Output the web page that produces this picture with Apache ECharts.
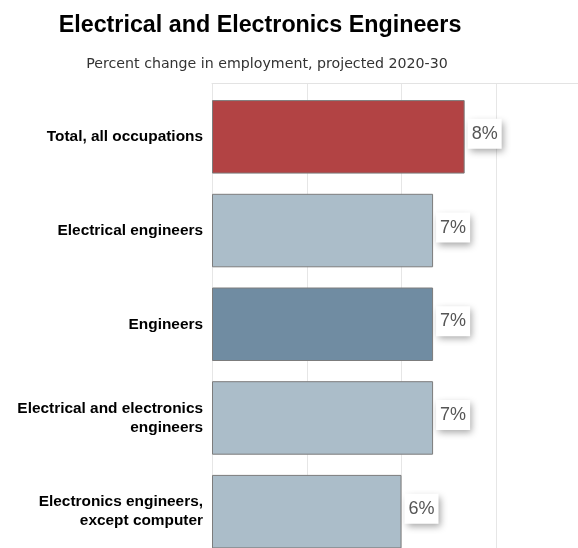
<!DOCTYPE html>
<html>
<head>
<meta charset="utf-8">
<script src="https://cdn.jsdelivr.net/npm/echarts@6/dist/echarts.min.js"></script>
<style>html,body{margin:0;padding:0;background:#fff}#c{width:578px;height:548px}</style>
</head>
<body>
<div id="c"></div>
<script>
var categories = [
  'Total, all occupations',
  'Electrical engineers',
  'Engineers',
  'Electrical and electronics\nengineers',
  'Electronics engineers,\nexcept computer'
];
var values = [8, 7, 7, 7, 6];
var barColors = ['#b24344', '#abbdc9', '#708ca2', '#abbdc9', '#abbdc9'];
var xMin = 0, xMax = 12, xStep = 3;

var chart = echarts.init(document.getElementById('c'), null, {renderer: 'canvas'});
chart.setOption({
  animation: false,
  title: [{
    text: 'Electrical and Electronics Engineers',
    left: 255, top: 9, textAlign: 'center',
    textStyle: {fontFamily: 'Liberation Sans, Arial, sans-serif', fontWeight: 'bold', fontSize: 23.3, color: '#000'}
  }, {
    text: 'Percent change in employment, projected 2020-30',
    left: 262, top: 52, textAlign: 'center',
    textStyle: {fontFamily: 'DejaVu Sans, sans-serif', fontWeight: 'normal', fontSize: 14.2, color: '#333'}
  }],
  grid: [
    {left: 212, top: 83, width: 379, height: 500, outerBoundsMode: 'none'},
    {left: 212, top: 90, width: 379, height: 468.5, outerBoundsMode: 'none'}
  ],
  xAxis: [{
    gridIndex: 0, type: 'value', min: xMin, max: xMax, interval: xStep, position: 'top',
    axisLine: {show: true, onZero: false, lineStyle: {color: '#e3e3e3', width: 1}},
    axisTick: {show: false}, axisLabel: {show: false},
    splitLine: {show: true, lineStyle: {color: '#e6e6e6', width: 1}}
  }, {
    gridIndex: 1, type: 'value', min: xMin, max: xMax, interval: xStep,
    axisLine: {show: false}, axisTick: {show: false}, axisLabel: {show: false}, splitLine: {show: false}
  }],
  yAxis: [{
    gridIndex: 0, type: 'value', min: 0, max: 1,
    axisLine: {show: false}, axisTick: {show: false}, axisLabel: {show: false}, splitLine: {show: false}
  }, {
    gridIndex: 1, type: 'category', data: categories, inverse: true,
    axisLine: {show: false}, axisTick: {show: false}, splitLine: {show: false},
    axisLabel: {
      margin: 9, align: 'right', fontFamily: 'Liberation Sans, Arial, sans-serif',
      fontWeight: 'bold', fontSize: 15.4, lineHeight: 19, color: '#000'
    }
  }],
  series: [{
    type: 'bar', xAxisIndex: 1, yAxisIndex: 1,
    barWidth: 73.5,
    data: values.map(function (v, i) {
      return {value: v, itemStyle: {color: barColors[i]}};
    }),
    itemStyle: {borderColor: '#7c7c7c', borderWidth: 1},
    label: {
      show: true, position: 'right', distance: 3, offset: [0, -3],
      formatter: '{c}%',
      fontFamily: 'Liberation Sans, Arial, sans-serif', fontSize: 18, lineHeight: 20, color: '#555',
      backgroundColor: '#fff', padding: [5, 4, 5, 4],
      shadowColor: 'rgba(0,0,0,0.35)', shadowBlur: 7, shadowOffsetX: 2, shadowOffsetY: 3
    }
  }]
});
</script>
</body>
</html>
